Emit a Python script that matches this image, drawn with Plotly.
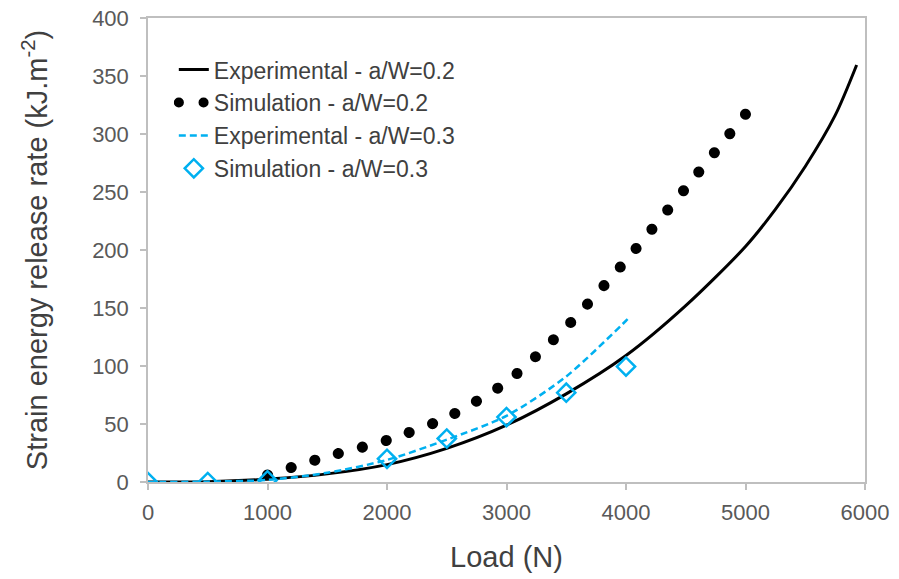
import plotly.graph_objects as go

# Experimental a/W=0.2 (solid black)
exp02_load = [0, 500, 1000, 1500, 2000, 2500, 3000, 3500, 4000, 4500, 5000, 5250, 5500, 5750, 5930]
exp02_g = [0, 0.3, 2.5, 7, 15, 29, 49, 76, 109, 152, 203, 235, 272, 316, 359.5]

# Simulation a/W=0.2 (dotted black)
sim02_load = [1000, 1500, 2000, 2500, 3000, 3500, 4000, 4500, 5000]
sim02_g = [6, 22, 36, 55.5, 86, 133.5, 191, 253.5, 317]

# Experimental a/W=0.3 (dashed blue)
exp03_load = [0, 500, 1000, 1500, 2000, 2500, 3000, 3500, 4000, 4020]
exp03_g = [0, 0.3, 1.8, 8, 19, 36.5, 57, 91, 139, 141]

# Simulation a/W=0.3 (open diamonds)
sim03_load = [0, 500, 1000, 2000, 2500, 3000, 3500, 4000]
sim03_g = [0, 0, 1.5, 20, 37.5, 56, 77, 99.5]

x_ticks = [0, 1000, 2000, 3000, 4000, 5000, 6000]
y_ticks = [0, 50, 100, 150, 200, 250, 300, 350, 400]

BLUE = "#00B0F0"
DOT_DASH = "0.1px,24.6px"
FONT = "Liberation Sans, Arial"

fig = go.Figure()
fig.add_trace(go.Scatter(
    x=exp02_load, y=exp02_g, mode="lines", name="Experimental - a/W=0.2",
    line=dict(color="black", width=3, shape="spline", smoothing=0.8)))
fig.add_trace(go.Scatter(
    x=sim02_load, y=sim02_g, mode="lines", name="Simulation - a/W=0.2",
    line=dict(color="black", width=11, dash=DOT_DASH, shape="spline", smoothing=0.6)))
fig.add_trace(go.Scatter(
    x=exp03_load, y=exp03_g, mode="lines", name="Experimental - a/W=0.3",
    line=dict(color=BLUE, width=2.5, dash="7px,4px", shape="spline", smoothing=0.8)))
fig.add_trace(go.Scatter(
    x=sim03_load, y=sim03_g, mode="markers", name="Simulation - a/W=0.3",
    marker=dict(symbol="diamond-open", size=14, color=BLUE, line=dict(width=2.5, color=BLUE))))

axis_common = dict(
    showgrid=False, zeroline=False, showline=True, linecolor="#BFBFBF", linewidth=1.5,
    mirror=True, ticks="outside", ticklen=6, tickcolor="#BFBFBF", tickwidth=1.5,
    tickfont=dict(family=FONT, size=22, color="#595959"),
)

fig.update_xaxes(
    range=[0, 6000], tickvals=x_ticks, ticktext=[str(v) for v in x_ticks],
    ticklabelstandoff=4,
    title=dict(text="Load (N)", font=dict(family=FONT, size=29, color="#404040"), standoff=23),
    **axis_common)
fig.update_yaxes(
    range=[0, 400], tickvals=y_ticks, ticktext=[str(v) for v in y_ticks],
    ticklabelstandoff=7,
    title=dict(text="Strain energy release rate (kJ.m<sup>-2</sup>)",
               font=dict(family=FONT, size=29, color="#404040"), standoff=36),
    **axis_common)

fig.update_layout(
    width=899, height=579,
    margin=dict(l=148, r=34, t=18, b=97, autoexpand=False),
    plot_bgcolor="white", paper_bgcolor="white",
    showlegend=True,
    legend=dict(x=0.036, y=0.935, xanchor="left", yanchor="top",
                bgcolor="rgba(0,0,0,0)",
                font=dict(family=FONT, size=23, color="#404040"),
                tracegroupgap=0, itemwidth=30),
)

post = """
var gd = document.getElementById('{plot_id}');
function fixCaps(){
  gd.querySelectorAll('path').forEach(function(p){
    var d = p.style.strokeDasharray || '';
    if (d.indexOf('24.6') >= 0) { p.style.strokeLinecap = 'round'; }
  });
}
fixCaps();
gd.on('plotly_afterplot', fixCaps);
"""

fig.write_html("out.html", post_script=post)
